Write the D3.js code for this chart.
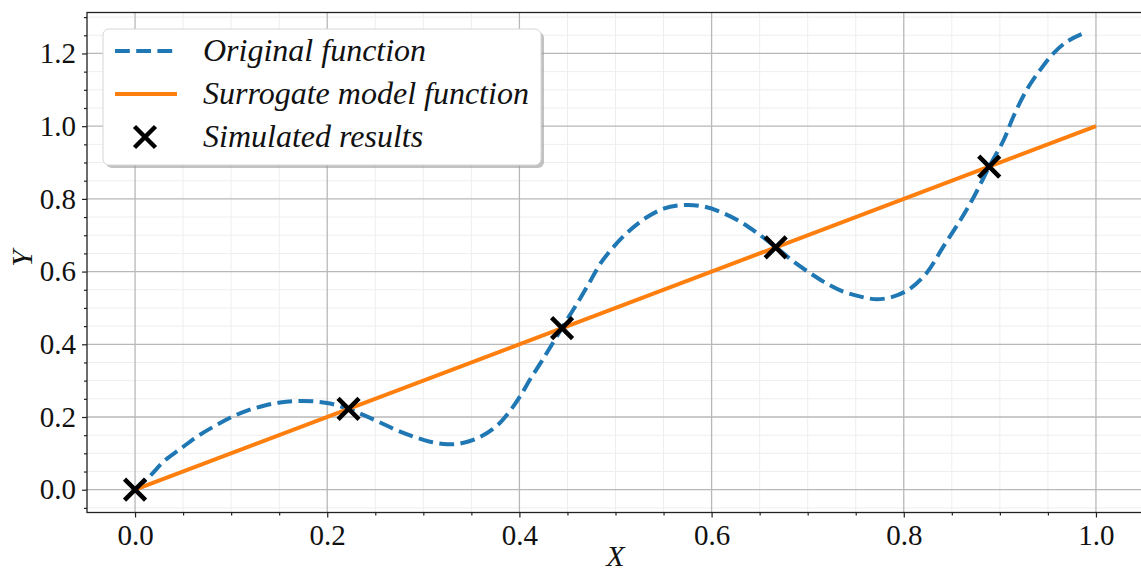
<!DOCTYPE html>
<html>
<head>
<meta charset="utf-8">
<script src="https://cdn.jsdelivr.net/npm/d3@7"></script>
<style>
  html, body { margin: 0; padding: 0; background: #fff; }
  svg { display: block; }
</style>
</head>
<body>
<svg id="chart" width="1141" height="574"></svg>
<script>
// Original (expensive) function, sampled along x
const origX = [0, 0.016, 0.030, 0.047, 0.064, 0.082, 0.099, 0.116, 0.134, 0.151, 0.168, 0.186, 0.203, 0.222, 0.238, 0.255, 0.272, 0.290, 0.307, 0.325, 0.342, 0.359, 0.377, 0.390, 0.401, 0.411, 0.425, 0.444, 0.460, 0.474, 0.484, 0.498, 0.515, 0.533, 0.550, 0.571, 0.592, 0.612, 0.630, 0.647, 0.667, 0.685, 0.703, 0.720, 0.737, 0.755, 0.772, 0.789, 0.807, 0.824, 0.841, 0.859, 0.873, 0.889, 0.904, 0.914, 0.928, 0.942, 0.956, 0.970, 0.985];
const origY = [0, 0.039, 0.078, 0.112, 0.145, 0.174, 0.198, 0.217, 0.231, 0.240, 0.244, 0.243, 0.237, 0.222, 0.205, 0.185, 0.164, 0.146, 0.132, 0.125, 0.129, 0.145, 0.177, 0.216, 0.258, 0.303, 0.361, 0.444, 0.512, 0.575, 0.621, 0.668, 0.714, 0.750, 0.773, 0.783, 0.779, 0.761, 0.737, 0.707, 0.667, 0.628, 0.595, 0.567, 0.545, 0.531, 0.524, 0.531, 0.554, 0.597, 0.668, 0.742, 0.806, 0.889, 0.962, 1.026, 1.100, 1.155, 1.201, 1.233, 1.253];

// Linear surrogate model, evaluated at its end points
const surrX = [0, 1];
const surrY = [0, 1];

// Simulated sample points
const simX = [0, 0.2222, 0.4444, 0.6667, 0.8889];
const simY = [0, 0.2222, 0.4444, 0.6667, 0.8889];

// Axis ticks
const xTicks = [0, 0.2, 0.4, 0.6, 0.8, 1.0];
const yTicks = [0, 0.2, 0.4, 0.6, 0.8, 1.0, 1.2];
const xMinor = [-0.05, 0.05, 0.1, 0.15, 0.25, 0.3, 0.35, 0.45, 0.5, 0.55, 0.65, 0.7, 0.75, 0.85, 0.9, 0.95, 1.05];
const yMinor = [-0.05, 0.05, 0.1, 0.15, 0.25, 0.3, 0.35, 0.45, 0.5, 0.55, 0.65, 0.7, 0.75, 0.85, 0.9, 0.95, 1.05, 1.1, 1.15, 1.25, 1.3];

const legendLabels = ["Original function", "Surrogate model function", "Simulated results"];

const BLUE = "#1f77b4", ORANGE = "#ff7f0e";
const FONT = "'Liberation Serif', 'DejaVu Serif', serif";

const svg = d3.select("#chart");
const plot = { left: 87, right: 1144, top: 12.5, bottom: 512.5 };

const x = d3.scaleLinear().domain([-0.05, 1.05]).range([plot.left, plot.right]);
const y = d3.scaleLinear().domain([-0.0627, 1.3127]).range([plot.bottom, plot.top]);

svg.append("defs").append("clipPath").attr("id", "clip")
  .append("rect").attr("x", plot.left).attr("y", plot.top)
  .attr("width", plot.right - plot.left).attr("height", plot.bottom - plot.top);

// Grid: minor then major
const grid = svg.append("g").attr("clip-path", "url(#clip)");
grid.selectAll(".vminor").data(xMinor).join("line")
  .attr("x1", d => x(d)).attr("x2", d => x(d)).attr("y1", plot.top).attr("y2", plot.bottom)
  .attr("stroke", "#eeeeee").attr("stroke-width", 1);
grid.selectAll(".hminor").data(yMinor).join("line")
  .attr("y1", d => y(d)).attr("y2", d => y(d)).attr("x1", plot.left).attr("x2", plot.right)
  .attr("stroke", "#eeeeee").attr("stroke-width", 1);
grid.selectAll(".vmajor").data(xTicks).join("line")
  .attr("x1", d => x(d)).attr("x2", d => x(d)).attr("y1", plot.top).attr("y2", plot.bottom)
  .attr("stroke", "#b8b8b8").attr("stroke-width", 1.3);
grid.selectAll(".hmajor").data(yTicks).join("line")
  .attr("y1", d => y(d)).attr("y2", d => y(d)).attr("x1", plot.left).attr("x2", plot.right)
  .attr("stroke", "#b8b8b8").attr("stroke-width", 1.3);

// Axes
const fmt = d3.format(".1f");
const xAxis = svg.append("g").attr("transform", `translate(0,${plot.bottom})`)
  .call(d3.axisBottom(x).tickValues(xTicks).tickFormat(fmt).tickSize(5).tickPadding(7));
const xAxisMinor = svg.append("g").attr("transform", `translate(0,${plot.bottom})`)
  .call(d3.axisBottom(x).tickValues(xMinor.filter(d => d > -0.05 && d < 1.05)).tickFormat("").tickSize(3));
const yAxis = svg.append("g").attr("transform", `translate(${plot.left},0)`)
  .call(d3.axisLeft(y).tickValues(yTicks).tickFormat(fmt).tickSize(5).tickPadding(6));
const yAxisMinor = svg.append("g").attr("transform", `translate(${plot.left},0)`)
  .call(d3.axisLeft(y).tickValues(yMinor).tickFormat("").tickSize(3));

[xAxis, xAxisMinor, yAxis, yAxisMinor].forEach(g => {
  g.attr("font-family", FONT).attr("font-size", 29);
  g.select(".domain").remove();
  g.selectAll(".tick line").attr("stroke", "#222").attr("stroke-width", 1.2);
  g.selectAll(".tick text").attr("fill", "#111");
});

// Spines
svg.append("rect")
  .attr("x", plot.left).attr("y", plot.top)
  .attr("width", plot.right - plot.left).attr("height", plot.bottom - plot.top)
  .attr("fill", "none").attr("stroke", "#222").attr("stroke-width", 1.3);

// Axis labels
svg.append("text").attr("x", (plot.left + plot.right) / 2).attr("y", 566)
  .attr("text-anchor", "middle").attr("font-family", FONT).attr("font-style", "italic")
  .attr("font-size", 30).attr("fill", "#111").text("X");
svg.append("text").attr("transform", `translate(32,${(plot.top + plot.bottom) / 2 - 4}) rotate(-90)`)
  .attr("text-anchor", "middle").attr("font-family", FONT).attr("font-style", "italic")
  .attr("font-size", 30).attr("fill", "#111").text("Y");

// Data
const data = svg.append("g").attr("clip-path", "url(#clip)");
const origPts = origX.map((v, i) => [v, origY[i]]);
const line = d3.line().x(d => x(d[0])).y(d => y(d[1]));

data.append("path").datum(origPts)
  .attr("d", line.curve(d3.curveCatmullRom.alpha(0.5)))
  .attr("fill", "none").attr("stroke", BLUE).attr("stroke-width", 4)
  .attr("stroke-dasharray", "14.8,6.4");

data.append("path").datum(surrX.map((v, i) => [v, surrY[i]]))
  .attr("d", d3.line().x(d => x(d[0])).y(d => y(d[1])))
  .attr("fill", "none").attr("stroke", ORANGE).attr("stroke-width", 4);

const cross = s => `M${-s},${-s}L${s},${s}M${-s},${s}L${s},${-s}`;
svg.append("g").selectAll("path").data(simX.map((v, i) => [v, simY[i]])).join("path")
  .attr("transform", d => `translate(${x(d[0])},${y(d[1])})`)
  .attr("d", cross(10.5))
  .attr("stroke", "#000").attr("stroke-width", 4.5).attr("fill", "none");

// Legend
const lg = svg.append("g");
const lb = { x: 103, y: 29, w: 438, h: 136 };
lg.append("rect").attr("x", lb.x + 3).attr("y", lb.y + 3).attr("width", lb.w).attr("height", lb.h)
  .attr("rx", 6).attr("fill", "#9a9a9a").attr("opacity", 0.6);
lg.append("rect").attr("x", lb.x).attr("y", lb.y).attr("width", lb.w).attr("height", lb.h)
  .attr("rx", 6).attr("fill", "#fff").attr("stroke", "#d6d6d6").attr("stroke-width", 1);

const rowY = [51, 94, 137];
const hx0 = 115, hx1 = 177;
lg.append("line").attr("x1", hx0).attr("x2", hx1).attr("y1", rowY[0]).attr("y2", rowY[0])
  .attr("stroke", BLUE).attr("stroke-width", 4).attr("stroke-dasharray", "14.8,6.4");
lg.append("line").attr("x1", hx0).attr("x2", hx1).attr("y1", rowY[1]).attr("y2", rowY[1])
  .attr("stroke", ORANGE).attr("stroke-width", 4);
lg.append("path").attr("transform", `translate(${(hx0 + hx1) / 2 - 1},${rowY[2]})`)
  .attr("d", cross(10.5)).attr("stroke", "#000").attr("stroke-width", 4.5);

lg.selectAll("text").data(legendLabels).join("text")
  .attr("x", 203).attr("y", (d, i) => rowY[i] + 10)
  .attr("font-family", FONT).attr("font-style", "italic").attr("font-size", 32)
  .attr("fill", "#111").text(d => d);
</script>
</body>
</html>
